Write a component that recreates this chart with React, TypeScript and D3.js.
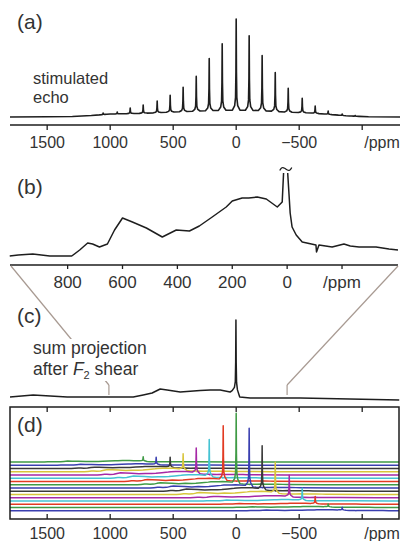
import React from "react";
import * as d3 from "d3";

// ---------------- data ----------------
// (a) stimulated echo: broad background and spinning sidebands
const bgAPpm = [1795, 1500, 1300, 1150, 1000, 800, 600, 400, 200, 0, -200, -400, -600, -750, -900, -1050, -1300];
const bgAVal = [0, 0.3, 0.5, 1.5, 3, 3.5, 4.5, 5.5, 6.5, 7, 6.5, 5, 4, 2.5, 1, 0.3, 0];
const sbPpmA = [1056, 944, 841, 738, 627, 524, 421, 317, 214, 111, 0, -103, -206, -310, -413, -524, -627, -730, -841, -944];
const sbTopA = [4, 5, 9, 12, 16, 22, 30, 41, 59, 74, 99, 82, 62, 45, 29, 19, 11, 6, 3, 1.5];
const ticksA = [1500, 1000, 500, 0, -500, -1000];
const labelsA = ["1500", "1000", "500", "0", "\u2212500"];

// (b) zoomed spectrum (peak at 0 ppm clipped)
const bPpmLeft = [1011, 980, 927, 865, 785, 756, 727, 709, 684, 655, 629, 600, 564, 513, 455, 404, 356, 320, 273, 222, 200, 164, 140, 109, 76, 36, 18, 13];
const bValLeft = [2, 3, 4, 2, 2, 8, 15, 14, 11, 14, 28, 40, 36, 30, 21, 28, 27, 32, 41, 51, 57, 60, 60, 61, 59, 51, 56, 85];
const bPpmRight = [-2, -11, -18, -33, -55, -105, -107, -116, -164, -207, -230, -262, -324, -371, -404];
const bValRight = [85, 45, 31, 23, 16, 13, 6, 13, 11, 14, 12, 11, 11, 9, 8];
const ticksB = [800, 600, 400, 200, 0, -200];
const labelsB = ["800", "600", "400", "200", "0"];
const zoomRange = [1010, -404];

// (c) sum projection after F2 shear
const cPpm = [1795, 1611, 1341, 1079, 817, 738, 667, 603, 548, 444, 286, 206, 127, 48, 24, -8, -24, -111, -508, -1294];
const cVal = [1, 3, 1, 1, 1, 3, 5, 9, 8, 6, 7.5, 8, 8, 6, 8, 5, 1, 0, 0, -2];
const cPeakPpm = 2;
const cPeakTop = 78;

// (d) stacked rows
const rowPeakPpm = [738, 635, 524, 421, 317, 214, 103, 0, -103, -206, -310, -421, -524, -627, -730, -841];
const rowPeakHeight = [6, 10, 14, 22, 35, 52, 77, 100, 83, 62, 43, 30, 17, 10, 4, 4];
const rowBackground = [2, 2, 3, 5, 5, 5, 4.5, 4.5, 4.5, 5, 4.5, 3, 2, 1.5, 1.5, 1.5];
const rowColors = ["#3f9a45", "#3a3fb0", "#3a3a3a", "#d8c53c", "#a628a6", "#45c3d3", "#e23a22"];

// peak line-shape template (ppm offsets, fraction of height)
const tplOff = [-30, -12, -5, -2, 0, 2, 5, 12, 30];
const tplFrac = [0, 0.05, 0.14, 0.42, 1, 0.42, 0.14, 0.05, 0];

const FONT = "'Liberation Sans', Arial, Helvetica, sans-serif";
const TXT = "#333";
const INK = "#1e1e1e";

function withPeaks(bgP: number[], bgV: number[], peaks: number[], tops: number[]) {
  const bg = d3.scaleLinear().domain(bgP).range(bgV).clamp(true);
  const pts: [number, number][] = [];
  bgP.forEach((p, i) => {
    if (!peaks.some((q) => Math.abs(q - p) <= 30)) pts.push([p, bgV[i]]);
  });
  peaks.forEach((q, k) => {
    const b = bg(q);
    tplOff.forEach((o, j) => {
      const p = q + o;
      pts.push([p, bg(p) + tplFrac[j] * (tops[k] - b)]);
    });
  });
  pts.sort((a, b) => b[0] - a[0]);
  return pts;
}

export default function App() {
  const xA = d3.scaleLinear().domain([1795, -1300]).range([10, 400]);
  const yA = d3.scaleLinear().domain([0, 100]).range([117, 18]);
  const xB = d3.scaleLinear().domain(zoomRange).range([10, 398]);
  const yB = d3.scaleLinear().domain([0, 100]).range([258, 158]);
  const yC = d3.scaleLinear().domain([0, 100]).range([398, 298]);
  const rowY = d3.scaleLinear().domain([0, 15]).range([462, 510.75]);
  const hD = d3.scaleLinear().domain([0, 100]).range([0, 69]);

  // (a)
  const ptsA = withPeaks(bgAPpm, bgAVal, sbPpmA, sbTopA);
  const lineA = d3.line<[number, number]>().x((d) => xA(d[0])).y((d) => yA(d[1]));

  // (b)
  const lineB = d3.line<[number, number]>().x((d) => xB(d[0])).y((d) => yB(d[1]));
  const ptsBL = bPpmLeft.map((p, i) => [p, bValLeft[i]] as [number, number]);
  const ptsBR = bPpmRight.map((p, i) => [p, bValRight[i]] as [number, number]);
  const tx = xB(5);
  const ty = yB(89);
  const tilde = d3.line<[number, number]>().curve(d3.curveBasis)([
    [tx - 6, ty + 1.5],
    [tx - 4, ty - 2],
    [tx - 1, ty - 1],
    [tx + 1, ty + 1],
    [tx + 4, ty + 2],
    [tx + 6, ty - 1.5],
  ]);

  // (c)
  const ptsC = withPeaks(cPpm, cVal, [cPeakPpm], [cPeakTop]);
  const lineC = d3.line<[number, number]>().x((d) => xA(d[0])).y((d) => yC(d[1]));

  // (d) row profile built from (b) broad background (excluding clipped peak)
  const profP: number[] = [3000];
  const profV: number[] = [0];
  bPpmLeft.forEach((p, i) => {
    if (bValLeft[i] < 80) {
      profP.push(p);
      profV.push(Math.max(0, bValLeft[i] - 2) / 58);
    }
  });
  bPpmRight.forEach((p, i) => {
    if (bValRight[i] < 80) {
      profP.push(p);
      profV.push(Math.max(0, bValRight[i] - 2) / 58);
    }
  });
  profP.push(-700, -3000);
  profV.push(0.03, 0);
  const prof = d3.scaleLinear().domain(profP).range(profV).clamp(true);

  const rows = rowPeakPpm.map((pk, i) => {
    const pts: [number, number][] = [];
    const val = (p: number) => rowBackground[i] * prof(p - pk);
    profP.forEach((o) => {
      const p = o + pk;
      if (Math.abs(o) > 30) pts.push([p, val(p)]);
    });
    pts.push([1900, val(1900)], [-1400, val(-1400)]);
    tplOff.forEach((o, j) => {
      const p = pk + o;
      pts.push([p, val(p) + tplFrac[j] * rowPeakHeight[i]]);
    });
    pts.sort((a, b) => b[0] - a[0]);
    const y0 = rowY(i);
    const ln = d3.line<[number, number]>().x((d) => xA(d[0])).y((d) => y0 - hD(d[1]));
    return { d: ln(pts) || "", color: rowColors[i % rowColors.length] };
  });

  const axisA = 125;
  const axisB = 265;
  const box = { x0: 10, x1: 399, y0: 407, y1: 519 };
  const gray = "#a89a92";

  return (
    <svg
      width={402}
      height={541}
      style={{ position: "absolute", left: 0, top: 0, background: "#fff" }}
      fontFamily={FONT}
    >
      <rect x={0} y={0} width={402} height={541} fill="#fff" />

      {/* ---------- (a) ---------- */}
      <text x={17} y={29} fontSize={21} fill={TXT}>(a)</text>
      <text x={33} y={84} fontSize={16.5} fill={TXT}>stimulated</text>
      <text x={33} y={103} fontSize={16.5} fill={TXT}>echo</text>
      <path d={lineA(ptsA) || ""} fill="none" stroke={INK} strokeWidth={1.6} strokeLinejoin="round" />
      <line x1={10} x2={400} y1={axisA} y2={axisA} stroke={INK} strokeWidth={1.6} />
      {ticksA.map((t) => (
        <line key={t} x1={xA(t)} x2={xA(t)} y1={axisA} y2={axisA + 5} stroke={INK} strokeWidth={1.3} />
      ))}
      {labelsA.map((l, i) => (
        <text key={l} x={xA(ticksA[i])} y={148} fontSize={16} textAnchor="middle" fill={TXT}>{l}</text>
      ))}
      <text x={xA(-1000) + 2} y={148} fontSize={16} fill={TXT}>/ppm</text>

      {/* ---------- (b) ---------- */}
      <text x={17} y={194} fontSize={21} fill={TXT}>(b)</text>
      <path d={lineB(ptsBL) || ""} fill="none" stroke={INK} strokeWidth={1.5} strokeLinejoin="round" />
      <path d={lineB(ptsBR) || ""} fill="none" stroke={INK} strokeWidth={1.5} strokeLinejoin="round" />
      <path d={tilde || ""} fill="none" stroke={INK} strokeWidth={1.2} />
      <line x1={10} x2={398} y1={axisB} y2={axisB} stroke={INK} strokeWidth={1.6} />
      {ticksB.map((t) => (
        <line key={t} x1={xB(t)} x2={xB(t)} y1={axisB} y2={axisB + 4} stroke={INK} strokeWidth={1.3} />
      ))}
      {labelsB.map((l, i) => (
        <text key={l} x={xB(ticksB[i])} y={288} fontSize={17} textAnchor="middle" fill={TXT}>{l}</text>
      ))}
      <text x={xB(-200)} y={288} fontSize={17} textAnchor="middle" fill={TXT}>/ppm</text>

      {/* connector lines */}
      <line x1={xB(zoomRange[0]) + 1} y1={axisB + 1} x2={xA(zoomRange[0])} y2={385} stroke={gray} strokeWidth={1.2} />
      <line x1={xB(zoomRange[1])} y1={axisB + 1} x2={xA(zoomRange[1])} y2={385} stroke={gray} strokeWidth={1.2} />
      <line x1={xA(zoomRange[0])} y1={385} x2={xA(zoomRange[0])} y2={395} stroke={gray} strokeWidth={1.2} />
      <line x1={xA(zoomRange[1])} y1={385} x2={xA(zoomRange[1])} y2={395} stroke={gray} strokeWidth={1.2} />

      {/* ---------- (c) ---------- */}
      <text x={17} y={323} fontSize={21} fill={TXT}>(c)</text>
      <rect x={30} y={339} width={120} height={42} fill="#fff" />
      <text x={33} y={354} fontSize={17.5} fill={TXT}>sum projection</text>
      <text x={33} y={375} fontSize={17.5} fill={TXT}>
        after <tspan fontStyle="italic">F</tspan>
        <tspan fontSize={11} dy={4}>2</tspan>
        <tspan dy={-4}> shear</tspan>
      </text>
      <path d={lineC(ptsC) || ""} fill="none" stroke={INK} strokeWidth={1.5} strokeLinejoin="round" />

      {/* ---------- (d) ---------- */}
      <defs>
        <clipPath id="boxclip">
          <rect x={box.x0} y={box.y0} width={box.x1 - box.x0} height={box.y1 - box.y0} />
        </clipPath>
      </defs>
      <g clipPath="url(#boxclip)">
        {rows.map((r, i) => (
          <path key={i} d={r.d} fill="none" stroke={r.color} strokeWidth={1.5} strokeLinejoin="round" />
        ))}
      </g>
      <rect x={box.x0} y={box.y0} width={box.x1 - box.x0} height={box.y1 - box.y0} fill="none" stroke={INK} strokeWidth={1.5} />
      {ticksA.map((t) => (
        <g key={t}>
          <line x1={xA(t)} x2={xA(t)} y1={box.y0} y2={box.y0 + 5} stroke={INK} strokeWidth={1.3} />
          <line x1={xA(t)} x2={xA(t)} y1={box.y1} y2={box.y1 - 5} stroke={INK} strokeWidth={1.3} />
        </g>
      ))}
      <text x={17} y={432} fontSize={21} fill={TXT}>(d)</text>
      {labelsA.map((l, i) => (
        <text key={l} x={xA(ticksA[i])} y={539} fontSize={16} textAnchor="middle" fill={TXT}>{l}</text>
      ))}
      <text x={xA(-1000) + 2} y={539} fontSize={16} fill={TXT}>/ppm</text>
    </svg>
  );
}
